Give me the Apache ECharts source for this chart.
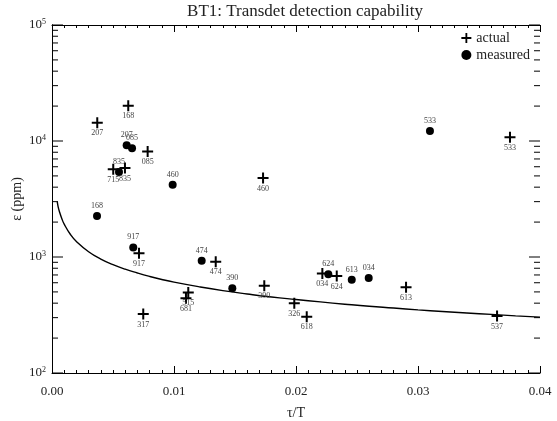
<!DOCTYPE html>
<html>
<head>
<meta charset="utf-8">
<script src="https://cdn.jsdelivr.net/npm/echarts@6/dist/echarts.min.js"></script>
<style>html,body{margin:0;padding:0;background:#fff}#c{width:557px;height:421px}</style>
</head>
<body>
<div id="c"></div>
<script>
// ---- data ----
const actualNames = ['168','207','085','715','835','460','917','515','681','317','474','390','326','618','034','624','613','533','537'];
const actualX = [0.00625,0.00371,0.00784,0.00502,0.00598,0.0173,0.00713,0.01117,0.01098,0.00748,0.01342,0.0174,0.01986,0.02088,0.02216,0.02334,0.02902,0.03754,0.03648];
const actualY = [20100,14400,8100,5700,5850,4800,1075,495,440,322,910,565,400,306,722,686,548,10750,310];

const measuredNames = ['207','085','835','460','168','917','474','390','624','613','034','533'];
const measuredX = [0.00612,0.00656,0.00549,0.00989,0.00369,0.00666,0.01227,0.01478,0.02265,0.02457,0.02596,0.03098];
const measuredY = [9180,8650,5400,4200,2255,1210,930,537,709,637,659,12200];

const curveX = [0.00043,0.0005,0.0006,0.0008,0.001,0.0015,0.002,0.003,0.004,0.005,0.006,0.007,0.008,0.009,0.010,0.012,0.014,0.016,0.018,0.020,0.022,0.024,0.026,0.028,0.030,0.032,0.034,0.036,0.038,0.040];
const curveY = [3000,2720,2480,2150,1920,1570,1360,1110,960,860,785,728,680,640,607,555,513,480,452,430,410,392,376,363,350,339,329,320,311,303];

const yMajorTicks = [100,1000,10000,100000];
const yMinorTicks = [200,300,400,500,600,700,800,900,2000,3000,4000,5000,6000,7000,8000,9000,20000,30000,40000,50000,60000,70000,80000,90000];

// ---- chart ----
const FONT = '"Liberation Serif","DejaVu Serif",serif';
const plusPath = 'path://M0,4.5H4.5V0H6.5V4.5H11V6.5H6.5V11H4.5V6.5H0Z';

const chart = echarts.init(document.getElementById('c'), null, {renderer:'canvas'});

function pts(xs, ys, names) {
  return xs.map((x, i) => ({ value: [x, ys[i]], name: names ? names[i] : undefined }));
}

const xCommon = {
  type: 'value', min: 0, max: 0.04, interval: 0.01,
  axisLine: { show: true, lineStyle: { color: '#000', width: 1 } },
  axisTick: { show: true, inside: true, length: 7, lineStyle: { color: '#000' } },
  minorTick: { show: true, splitNumber: 10, length: 3, lineStyle: { color: '#000' } },
  splitLine: { show: false }, minorSplitLine: { show: false }
};
const yCommon = {
  type: 'log', logBase: 10, min: 100, max: 100000,
  axisLine: { show: true, lineStyle: { color: '#000', width: 1 } },
  axisTick: { show: false },
  minorTick: { show: false },
  splitLine: { show: false }
};

function tickSeries(values, len) {
  return {
    type: 'custom', xAxisIndex: 0, yAxisIndex: 0, silent: true, clip: false,
    data: values.map(v => [0, v]),
    renderItem: (params, api) => {
      const v = api.value(1);
      const l = api.coord([0, v]);
      const r = api.coord([0.04, v]);
      return { type: 'group', children: [
        { type: 'line', shape: { x1: l[0], y1: l[1], x2: l[0] + len, y2: l[1] }, style: { stroke: '#000', lineWidth: 1 } },
        { type: 'line', shape: { x1: r[0] - len, y1: r[1], x2: r[0], y2: r[1] }, style: { stroke: '#000', lineWidth: 1 } }
      ]};
    },
    z: 3
  };
}

chart.setOption({
  animation: false,
  backgroundColor: '#fff',
  textStyle: { fontFamily: FONT },
  title: {
    text: 'BT1: Transdet detection capability',
    left: 300, top: -2, textAlign: 'center',
    textStyle: { fontFamily: FONT, fontSize: 17, fontWeight: 'normal', color: '#222' }
  },
  grid: { left: 52, right: 17, top: 25, bottom: 48, containLabel: false, outerBoundsMode: 'none' },
  legend: {
    orient: 'vertical', right: 22, top: 26, itemGap: 3,
    itemWidth: 10, itemHeight: 10,
    textStyle: { fontFamily: FONT, fontSize: 14, color: '#222' },
    data: [
      { name: 'actual', icon: plusPath },
      { name: 'measured', icon: 'circle' }
    ]
  },
  xAxis: [
    Object.assign({}, xCommon, {
      position: 'bottom',
      name: 'τ/T', nameLocation: 'middle', nameGap: 33, nameMoveOverlap: false,
      nameTextStyle: { fontFamily: FONT, fontSize: 14, color: '#222' },
      axisLabel: { show: true, margin: 12, fontFamily: FONT, fontSize: 13, color: '#222',
        formatter: v => v.toFixed(2) }
    }),
    Object.assign({}, xCommon, { position: 'top', axisLabel: { show: false } })
  ],
  yAxis: [
    Object.assign({}, yCommon, {
      position: 'left',
      name: 'ε (ppm)', nameLocation: 'middle', nameGap: 28, nameRotate: 90, nameMoveOverlap: false,
      nameTextStyle: { fontFamily: FONT, fontSize: 14, color: '#222' },
      axisLabel: {
        show: true, margin: 6, fontFamily: FONT, fontSize: 13, color: '#222',
        formatter: v => '10{s|' + Math.round(Math.log10(v)) + '}',
        rich: { s: { fontFamily: FONT, fontSize: 8, verticalAlign: 'top', padding: [0,0,7,0], color: '#222' } }
      }
    }),
    Object.assign({}, yCommon, { position: 'right', axisLabel: { show: false } })
  ],
  series: [
    {
      name: 'curve', type: 'line', xAxisIndex: 0, yAxisIndex: 0,
      data: pts(curveX, curveY), showSymbol: false, symbol: 'none', smooth: true,
      lineStyle: { color: '#000', width: 1.4 }, silent: true, z: 2
    },
    {
      name: 'actual', type: 'scatter', xAxisIndex: 0, yAxisIndex: 0,
      data: pts(actualX, actualY, actualNames),
      symbol: plusPath, symbolSize: 11,
      itemStyle: { color: '#000', opacity: 1 },
      label: { show: true, position: 'bottom', distance: 1, formatter: p => p.name,
        fontFamily: FONT, fontSize: 8, color: '#444' },
      z: 4
    },
    {
      name: 'measured', type: 'scatter', xAxisIndex: 0, yAxisIndex: 0,
      data: pts(measuredX, measuredY, measuredNames),
      symbol: 'circle', symbolSize: 8,
      itemStyle: { color: '#000', opacity: 1 },
      label: { show: true, position: 'top', distance: 2, formatter: p => p.name,
        fontFamily: FONT, fontSize: 8, color: '#444' },
      z: 4
    },
    tickSeries(yMajorTicks, 11),
    tickSeries(yMinorTicks, 6)
  ]
});
</script>
</body>
</html>
